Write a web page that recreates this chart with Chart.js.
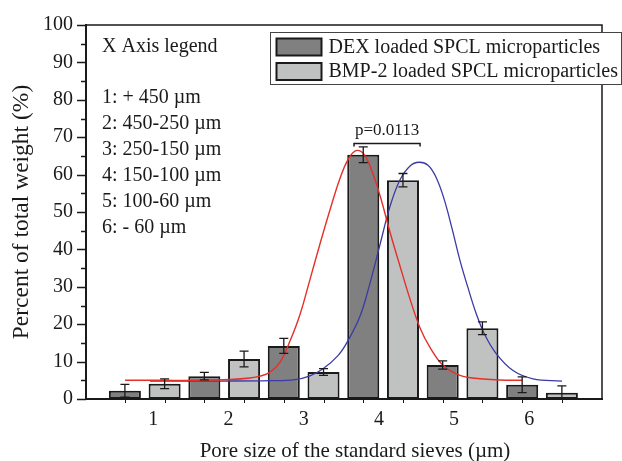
<!DOCTYPE html>
<html><head><meta charset="utf-8">
<script src="https://cdn.jsdelivr.net/npm/chart.js@4/dist/chart.umd.min.js"></script>
<style>html,body{margin:0;padding:0;background:#fff}#wrap{width:622px;height:461px}</style>
</head><body><div id="wrap"><canvas id="c" width="622" height="461"></canvas></div>
<script>
// ---- data ----
const categories = [1, 2, 3, 4, 5, 6];
const xTickLabels = ['1', '2', '3', '4', '5', '6'];
const dexLabel = 'DEX loaded SPCL microparticles';
const bmpLabel = 'BMP-2 loaded SPCL microparticles';
const dexValues = [2.2, 6.1, 14.2, 65.3, 9.1, 3.8];
const dexErrors = [1.7, 1.0, 2.0, 2.1, 1.1, 2.1];
const bmpValues = [4.1, 10.7, 7.2, 58.5, 18.9, 1.7];
const bmpErrors = [1.3, 2.1, 0.9, 1.8, 1.7, 1.8];
// fitted curves (x in category units)
const dexFitX = [0.751, 1.192, 1.695, 2.073, 2.325, 2.451, 2.576, 2.702, 2.828, 2.954, 3.080, 3.206, 3.332, 3.458, 3.558, 3.659, 3.760, 3.860, 3.961, 4.087, 4.213, 4.339, 4.465, 4.590, 4.754, 4.968, 5.220, 5.471, 5.748];
const dexFitY = [5.0, 5.0, 5.0, 5.2, 5.6, 6.1, 7.2, 9.8, 15.5, 22.6, 32.0, 41.5, 50.6, 59.0, 64.0, 66.4, 65.4, 60.9, 54.4, 44.6, 35.5, 26.7, 19.0, 13.8, 9.0, 6.3, 5.4, 5.1, 5.0];
const bmpFitX = [1.066, 1.947, 2.576, 2.891, 3.080, 3.244, 3.432, 3.558, 3.709, 3.835, 3.961, 4.087, 4.213, 4.339, 4.452, 4.565, 4.666, 4.767, 4.867, 4.968, 5.069, 5.169, 5.270, 5.421, 5.635, 5.887, 6.252];
const bmpFitY = [4.8, 4.8, 4.9, 5.2, 6.2, 8.1, 11.6, 15.6, 22.1, 31.0, 41.3, 51.5, 58.6, 62.3, 63.3, 62.5, 59.3, 53.5, 45.6, 37.0, 29.7, 23.0, 17.6, 12.2, 7.6, 5.4, 4.8];
const yTickValues = [0, 10, 20, 30, 40, 50, 60, 70, 80, 90, 100];
const xTitle = 'Pore size of the standard sieves (µm)';
const yTitle = 'Percent of total weight (%)';
const legendTitle = 'X Axis legend';
const sieveLegend = ['1: + 450 µm', '2: 450-250 µm', '3: 250-150 µm', '4: 150-100 µm', '5: 100-60 µm', '6: - 60 µm'];
const pLabel = 'p=0.0113';
const pBracket = { from: 3.634, to: 4.465, value: 68.4 };

// ---- styles ----
const FONT = "'Liberation Serif', 'Times New Roman', serif";
const INK = '#1a1a1a';
Chart.defaults.font.family = FONT;
Chart.defaults.color = INK;

const decorations = {
  id: 'decorations',
  afterDatasetsDraw(chart) {
    const { ctx, scales } = chart;
    const y = scales.y;
    ctx.save();
    ctx.strokeStyle = INK;
    ctx.lineWidth = 1.3;
    [[0, dexValues, dexErrors], [1, bmpValues, bmpErrors]].forEach(([di, vals, errs]) => {
      const meta = chart.getDatasetMeta(di);
      meta.data.forEach((el, i) => {
        const x = el.x;
        const yt = y.getPixelForValue(vals[i] + errs[i]);
        const yb = y.getPixelForValue(vals[i] - errs[i]);
        ctx.beginPath();
        ctx.moveTo(x, yt); ctx.lineTo(x, yb);
        ctx.moveTo(x - 4.5, yt); ctx.lineTo(x + 4.5, yt);
        ctx.moveTo(x - 4.5, yb); ctx.lineTo(x + 4.5, yb);
        ctx.stroke();
      });
    });
    ctx.restore();
  },
  afterDraw(chart) {
    const { ctx, chartArea: a, scales } = chart;
    const y = scales.y, xb = scales.xb;
    ctx.save();
    // frame
    ctx.strokeStyle = INK;
    ctx.lineWidth = 1.5;
    ctx.beginPath();
    ctx.moveTo(a.left, a.top); ctx.lineTo(a.right, a.top); ctx.lineTo(a.right, a.bottom);
    ctx.stroke();
    ctx.lineWidth = 2;
    ctx.beginPath();
    ctx.moveTo(a.left, a.top - 1); ctx.lineTo(a.left, a.bottom); ctx.lineTo(a.right + 1, a.bottom);
    ctx.stroke();
    // y ticks (major/minor)
    ctx.lineWidth = 1.5;
    ctx.beginPath();
    for (let v = 0; v <= 100; v += 5) {
      const py = Math.round(y.getPixelForValue(v)) + 0.5;
      const len = v % 10 === 0 ? 9 : 5;
      ctx.moveTo(a.left - len, py); ctx.lineTo(a.left, py);
    }
    ctx.stroke();
    // x ticks at bar centres
    ctx.lineWidth = 1;
    ctx.beginPath();
    [0, 1].forEach(di => chart.getDatasetMeta(di).data.forEach(el => {
      const px = Math.round(el.x) + 0.5;
      ctx.moveTo(px, a.bottom); ctx.lineTo(px, a.bottom + 4);
    }));
    ctx.stroke();
    // x-axis title (sits slightly right of centre in the original)
    ctx.fillStyle = INK;
    ctx.font = '21px ' + FONT;
    ctx.textAlign = 'center';
    ctx.textBaseline = 'alphabetic';
    ctx.fillText(xTitle, (a.left + a.right) / 2 + 11, a.bottom + 58);
    // text block
    ctx.font = '20px ' + FONT;
    ctx.textAlign = 'left';
    ctx.fillText(legendTitle, a.left + 16, a.top + 27);
    sieveLegend.forEach((t, i) => ctx.fillText(t, a.left + 16, a.top + 78 + i * 26));
    // p-value bracket
    const bx1 = xb.getPixelForValue(pBracket.from), bx2 = xb.getPixelForValue(pBracket.to);
    const by = Math.round(y.getPixelForValue(pBracket.value)) + 0.5;
    ctx.lineWidth = 1.5;
    ctx.beginPath();
    ctx.moveTo(bx1, by + 3); ctx.lineTo(bx1, by); ctx.lineTo(bx2, by); ctx.lineTo(bx2, by + 3);
    ctx.stroke();
    ctx.font = '17px ' + FONT;
    ctx.textAlign = 'center';
    ctx.fillText(pLabel, (bx1 + bx2) / 2, by - 9);
    // legend box
    const lx = 270.5, ly = 32.5, lw = 351, lh = 52;
    ctx.fillStyle = '#fff';
    ctx.fillRect(lx, ly, lw, lh);
    ctx.strokeStyle = '#444';
    ctx.lineWidth = 1;
    ctx.strokeRect(lx, ly, lw, lh);
    ctx.font = '20px ' + FONT;
    ctx.textAlign = 'left';
    ctx.textBaseline = 'middle';
    [0, 1].forEach(di => {
      const ds = chart.data.datasets[di];
      const sy = ly + 6 + di * 24.5;
      ctx.fillStyle = ds.backgroundColor;
      ctx.fillRect(lx + 6, sy, 45, 17);
      ctx.strokeStyle = INK;
      ctx.lineWidth = 2;
      ctx.strokeRect(lx + 6, sy, 45, 17);
      ctx.fillStyle = INK;
      ctx.fillText(ds.label, lx + 58, sy + 9);
    });
    ctx.restore();
  }
};

const pts = (xs, ys) => xs.map((x, i) => ({ x, y: ys[i] }));
const barPts = vals => categories.map((c, i) => ({ x: c, y: vals[i] }));
const fixTicks = s => { s.ticks = categories.map(v => ({ value: v })); };

new Chart(document.getElementById('c'), {
  type: 'bar',
  data: {
    datasets: [
      { label: dexLabel, data: barPts(dexValues), backgroundColor: '#808080', borderColor: INK, borderWidth: 2, borderSkipped: false, xAxisID: 'xb', yAxisID: 'y', order: 2, categoryPercentage: 1, barPercentage: 0.806 },
      { label: bmpLabel, data: barPts(bmpValues), backgroundColor: '#c0c2c1', borderColor: INK, borderWidth: 2, borderSkipped: false, xAxisID: 'xb', yAxisID: 'y', order: 2, categoryPercentage: 1, barPercentage: 0.806 },
      { type: 'line', label: 'DEX fit', data: pts(dexFitX, dexFitY), borderColor: '#e5302a', borderWidth: 1.4, pointRadius: 0, fill: false, tension: 0.4, xAxisID: 'xb', yAxisID: 'y', order: 1 },
      { type: 'line', label: 'BMP-2 fit', data: pts(bmpFitX, bmpFitY), borderColor: '#3b3aa6', borderWidth: 1.3, pointRadius: 0, fill: false, tension: 0.4, xAxisID: 'xb', yAxisID: 'y', order: 1 }
    ]
  },
  options: {
    responsive: false,
    devicePixelRatio: 1,
    animation: false,
    layout: { padding: { top: 19, right: 20, bottom: 0, left: 0 } },
    plugins: { legend: { display: false }, tooltip: { enabled: false } },
    scales: {
      xb: {
        type: 'linear', display: false, position: 'bottom', min: 0.2605, max: 6.755, offset: false,
        afterBuildTicks: fixTicks
      },
      x: {
        type: 'linear', position: 'bottom', min: 0.105, max: 6.967, offset: false,
        afterBuildTicks: fixTicks,
        ticks: { callback: v => xTickLabels[categories.indexOf(v)] ?? '', font: { size: 20 }, padding: 9, maxRotation: 0, autoSkip: false },
        grid: { display: false, drawTicks: false },
        border: { display: false },
        title: { display: false },
        afterFit: s => { s.height = 62; }
      },
      y: {
        type: 'linear', min: 0, max: 100,
        afterBuildTicks: s => { s.ticks = yTickValues.map(v => ({ value: v })); },
        ticks: { font: { size: 20 }, padding: 13 },
        grid: { display: false, drawTicks: false },
        border: { display: false },
        title: { display: true, text: yTitle, font: { size: 23.5, lineHeight: 1 }, padding: { top: 10, bottom: 0 } },
        afterFit: s => { s.width = 86; }
      }
    }
  },
  plugins: [decorations]
});
</script></body></html>
